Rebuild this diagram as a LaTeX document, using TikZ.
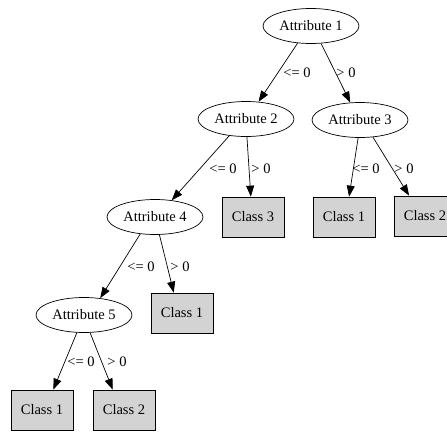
\documentclass[tikz,border=0pt]{standalone}
\usepackage{fontspec}
\setmainfont{Liberation Serif}
\usetikzlibrary{arrows.meta,shapes.geometric}
\definecolor{boxgray}{HTML}{D3D3D3}
\begin{document}
\begin{tikzpicture}[x=1pt,y=-1pt,
  every node/.style={font=\fontsize{14.5}{16}\selectfont},
  attr/.style={draw, ellipse, line width=0.7pt, minimum width=96pt, minimum height=35pt, inner sep=0pt},
  leaf/.style={draw, rectangle, fill=boxgray, line width=0.7pt, minimum width=62pt, minimum height=40pt, inner sep=0pt},
  edge/.style={draw, line width=0.7pt, -{Triangle[length=11pt,width=8pt]}},
  elabel/.style={inner sep=0pt}]
\useasboundingbox (0,0) rectangle (447,432);
\clip (0,0) rectangle (447,432);
\fill[white] (0,0) rectangle (447,432);

% decision nodes
\node[attr] (a1) at (311,26)  {Attribute 1};
\node[attr] (a2) at (246,119) {Attribute 2};
\node[attr] (a3) at (360,120) {Attribute 3};
\node[attr] (a4) at (155,217) {Attribute 4};
\node[attr] (a5) at (84,315)  {Attribute 5};

% leaves
\node[leaf] (c3)  at (253,217) {Class 3};
\node[leaf] (c1r) at (344,217) {Class 1};
\node[leaf] (c2r) at (425,216) {Class 2};
\node[leaf] (c1m) at (182,313) {Class 1};
\node[leaf] (c1b) at (42,410)  {Class 1};
\node[leaf] (c2b) at (124,410) {Class 2};

% branches
\draw[edge] (a1.232.6) -- (a2.54.8);
\draw[edge] (a1.300.5) -- (a3.119);
\draw[edge] (a2.225)   -- (a4.45);
\draw[edge] (a2.273)   -- (c3.96);
\draw[edge] (a3.264)   -- (c1r.76);
\draw[edge] (a3.307.4) -- (c2r.128);
\draw[edge] (a4.229.9) -- (a5.46.7);
\draw[edge] (a4.284.7) -- (c1m.112);
\draw[edge] (a5.248)   -- (c1b.61);
\draw[edge] (a5.289)   -- (c2b.119);

% branch labels
\node[elabel] (l1a) at (297,73)  {<= 0};
\node[elabel] (l1b) at (346,73)  {> 0};
\node[elabel] (l2a) at (223,169) {<= 0};
\node[elabel] (l2b) at (261,169) {> 0};
\node[elabel] (l3a) at (366,169) {<= 0};
\node[elabel] (l3b) at (404,169) {> 0};
\node[elabel] (l4a) at (141,267) {<= 0};
\node[elabel] (l4b) at (180,267) {> 0};
\node[elabel] (l5a) at (81,362)  {<= 0};
\node[elabel] (l5b) at (117,362) {> 0};
\end{tikzpicture}
\end{document}
